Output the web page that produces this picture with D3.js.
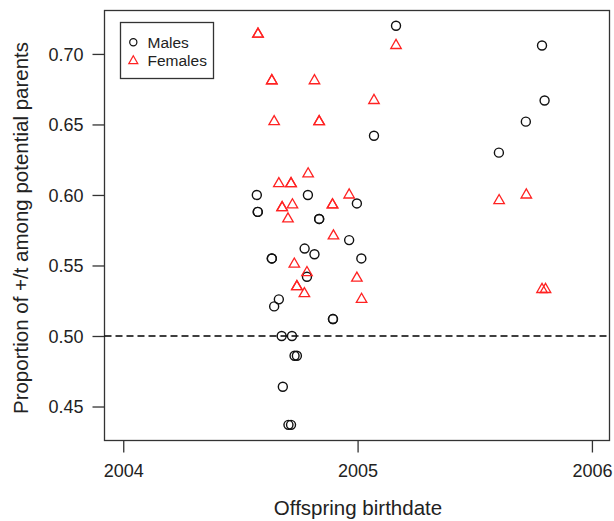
<!DOCTYPE html>
<html>
<head>
<meta charset="utf-8">
<script src="https://cdn.jsdelivr.net/npm/d3@7"></script>
<style>
  body { margin: 0; background: #fff; }
  svg { display: block; font-family: "Liberation Sans", Arial, sans-serif; }
</style>
</head>
<body>
<svg id="chart" width="614" height="521"></svg>
<script>
// offspring birthdate (decimal years) and proportion of +/t among potential parents
const maleDates = [2004.570, 2004.574, 2004.574, 2004.788, 2004.997, 2004.836, 2004.836,
  2004.964, 2004.774, 2004.816, 2004.634, 2004.634, 2005.016, 2004.784, 2004.664, 2004.644,
  2004.895, 2004.895, 2004.676, 2004.720, 2004.731, 2004.741, 2004.681, 2004.705, 2004.716,
  2005.164, 2005.070, 2005.787, 2005.798, 2005.718, 2005.603];
const maleProps = [0.600, 0.588, 0.588, 0.600, 0.594, 0.583, 0.583,
  0.568, 0.562, 0.558, 0.555, 0.555, 0.555, 0.542, 0.526, 0.521,
  0.512, 0.512, 0.500, 0.500, 0.486, 0.486, 0.464, 0.437, 0.437,
  0.720, 0.642, 0.706, 0.667, 0.652, 0.630];

const femaleDates = [2004.575, 2004.575, 2004.634, 2004.634, 2004.816, 2005.164, 2005.070,
  2004.644, 2004.836, 2004.836, 2004.789, 2004.664, 2004.716, 2004.716, 2004.964, 2004.678,
  2004.678, 2004.722, 2004.703, 2004.893, 2004.893, 2004.897, 2004.730, 2004.784, 2004.997,
  2004.741, 2004.741, 2004.773, 2005.017, 2005.720, 2005.604, 2005.787, 2005.802];
const femaleProps = [0.714, 0.714, 0.681, 0.681, 0.681, 0.706, 0.667,
  0.652, 0.652, 0.652, 0.615, 0.608, 0.608, 0.608, 0.600, 0.591,
  0.591, 0.593, 0.583, 0.593, 0.593, 0.571, 0.551, 0.545, 0.541,
  0.535, 0.535, 0.530, 0.526, 0.600, 0.596, 0.533, 0.533];

const xTicks = [2004, 2005, 2006];
const yTicks = [0.45, 0.50, 0.55, 0.60, 0.65, 0.70];
const legendLabels = ["Males", "Females"];

const plotLeft = 104.5, plotRight = 609.5, plotTop = 10.5, plotBottom = 440.5;
const ink = "#333", red = "#f22";

const svg = d3.select("#chart");

const x = d3.scaleLinear().domain([2003.920, 2006.075]).range([plotLeft, plotRight]);
const y = d3.scaleLinear().domain([0.4259, 0.7308]).range([plotBottom, plotTop]);

// axes
const gy = svg.append("g")
  .attr("transform", "translate(" + plotLeft + ",0)")
  .call(d3.axisLeft(y).tickValues(yTicks).tickSize(12).tickPadding(9).tickFormat(d3.format(".2f")));
const gx = svg.append("g")
  .attr("transform", "translate(0," + plotBottom + ")")
  .call(d3.axisBottom(x).tickValues(xTicks).tickSize(12).tickFormat(d3.format("d")));

[gx, gy].forEach(g => {
  g.select(".domain").remove();
  g.selectAll("line").attr("stroke", ink).attr("stroke-width", 1.3);
  g.selectAll("text").attr("fill", "#222").style("font-size", "18px");
});
gy.selectAll("text").attr("dy", "0.36em");
gx.selectAll("text").attr("y", 24).attr("dy", "0.71em");

// frame
svg.append("rect")
  .attr("x", plotLeft).attr("y", plotTop)
  .attr("width", plotRight - plotLeft).attr("height", plotBottom - plotTop)
  .attr("fill", "none").attr("stroke", ink).attr("stroke-width", 1.3);

// reference line at 0.5
svg.append("line")
  .attr("x1", plotLeft).attr("x2", plotRight)
  .attr("y1", y(0.5)).attr("y2", y(0.5))
  .attr("stroke", "#000").attr("stroke-width", 1.4)
  .attr("stroke-dasharray", "7,4");

// triangle with centroid at origin, like R pch = 2
function tri(s) {
  const h = s * Math.sqrt(3) / 2;
  return "M0," + (-2 * h / 3) + "L" + (s / 2) + "," + (h / 3) + "L" + (-s / 2) + "," + (h / 3) + "Z";
}

const males = maleDates.map((d, i) => ({ x: d, y: maleProps[i] }));
const females = femaleDates.map((d, i) => ({ x: d, y: femaleProps[i] }));

svg.append("g").selectAll("circle")
  .data(males)
  .enter()
  .append("circle")
  .attr("cx", d => x(d.x))
  .attr("cy", d => y(d.y))
  .attr("r", 4.5)
  .attr("fill", "none")
  .attr("stroke", "#111")
  .attr("stroke-width", 1.4);

svg.append("g").selectAll("path")
  .data(females)
  .enter()
  .append("path")
  .attr("transform", d => "translate(" + x(d.x) + "," + y(d.y) + ")")
  .attr("d", tri(10.5))
  .attr("fill", "none")
  .attr("stroke", red)
  .attr("stroke-width", 1.3);

// legend
const lg = svg.append("g");
lg.append("rect")
  .attr("x", 120.5).attr("y", 22.5).attr("width", 93).attr("height", 56)
  .attr("fill", "#fff").attr("stroke", ink).attr("stroke-width", 1.3);
lg.append("circle")
  .attr("cx", 133.3).attr("cy", 42.3).attr("r", 3.6)
  .attr("fill", "none").attr("stroke", "#111").attr("stroke-width", 1.2);
lg.append("path")
  .attr("transform", "translate(133.3,61)")
  .attr("d", tri(9))
  .attr("fill", "none").attr("stroke", red).attr("stroke-width", 1.2);
lg.selectAll("text")
  .data(legendLabels)
  .enter()
  .append("text")
  .attr("x", 147.5)
  .attr("y", (d, i) => 47.7 + i * 18)
  .attr("fill", "#222")
  .style("font-size", "15.5px")
  .text(d => d);

// axis titles
svg.append("text")
  .attr("x", 358).attr("y", 515)
  .attr("text-anchor", "middle")
  .attr("fill", "#222")
  .style("font-size", "20.5px")
  .text("Offspring birthdate");

svg.append("text")
  .attr("transform", "translate(28,228) rotate(-90)")
  .attr("text-anchor", "middle")
  .attr("fill", "#222")
  .style("font-size", "20.5px")
  .text("Proportion of +/t among potential parents");
</script>
</body>
</html>
